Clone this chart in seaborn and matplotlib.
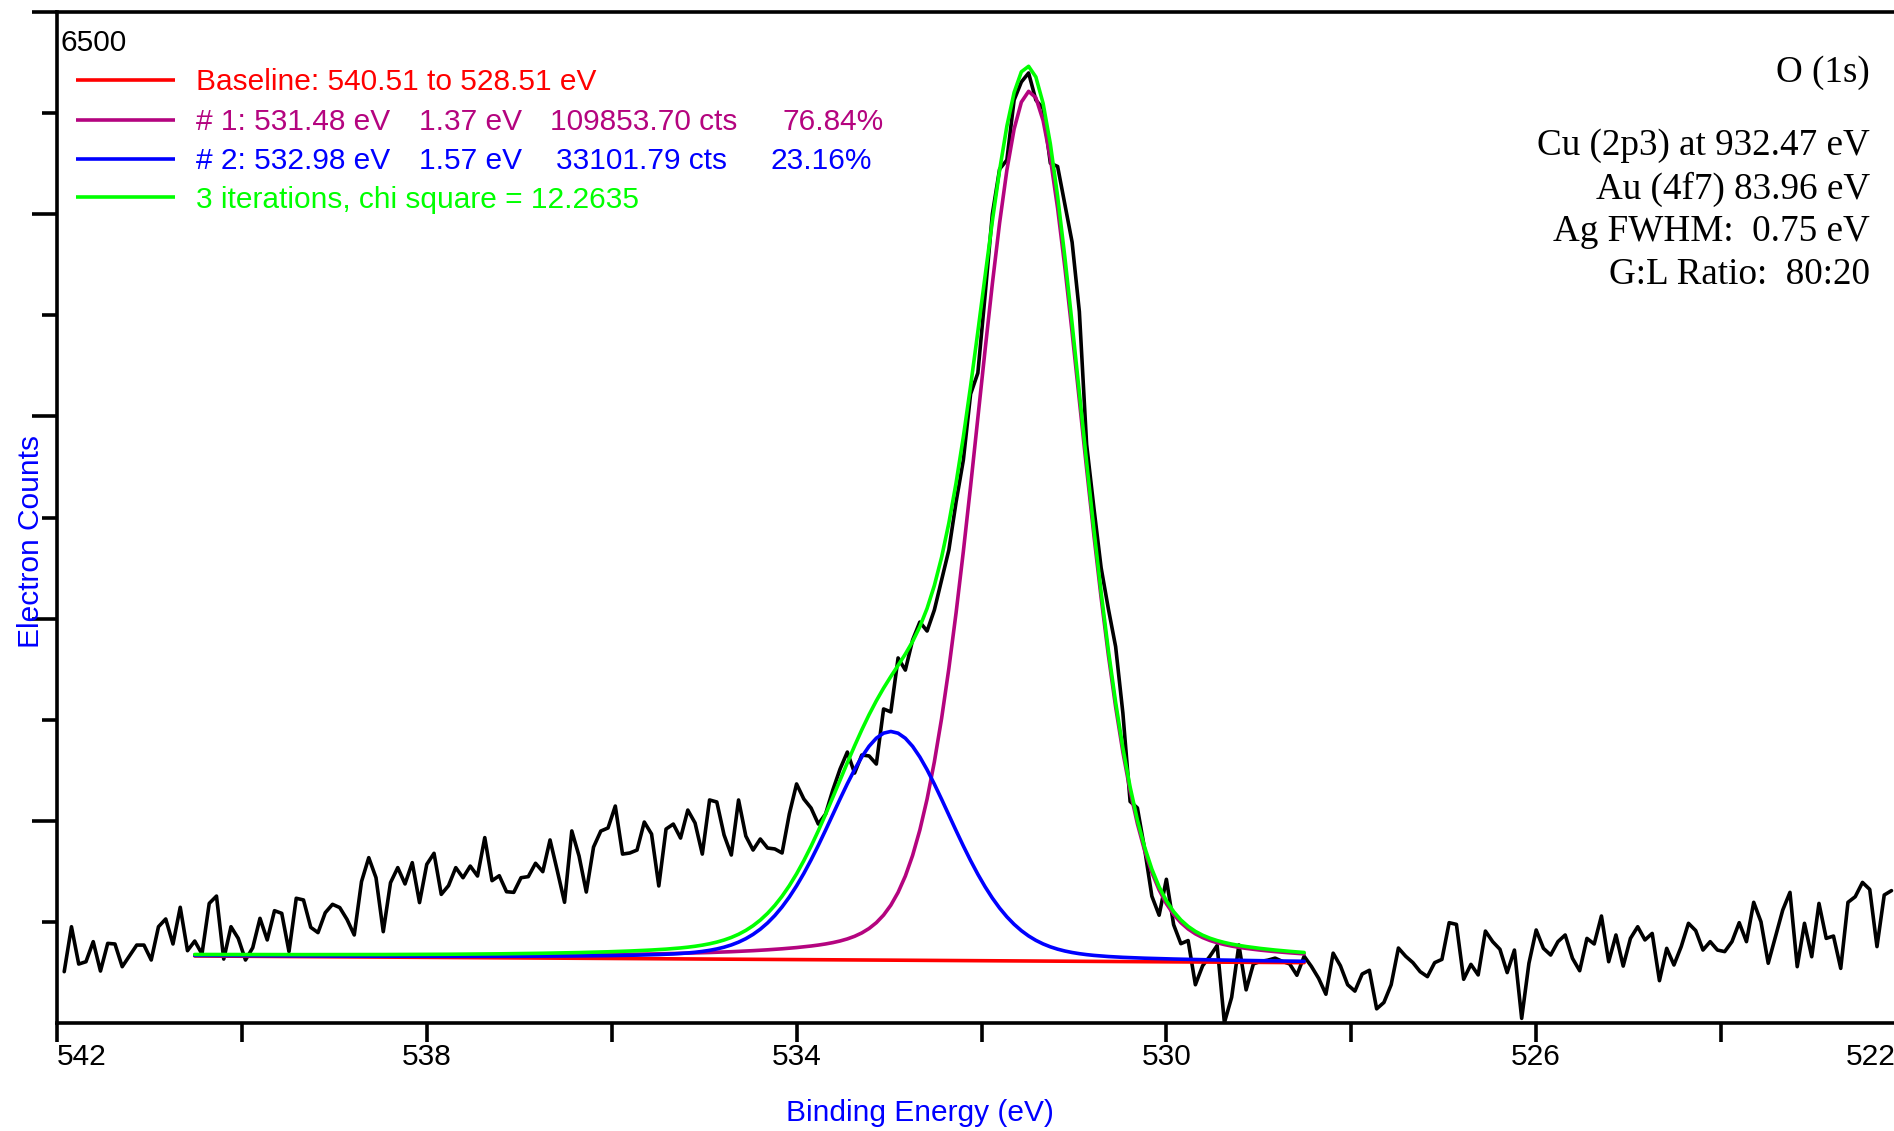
import numpy as np
import matplotlib
matplotlib.use("Agg")
import matplotlib.pyplot as plt
from matplotlib.transforms import ScaledTranslation
import seaborn as sns

# ---- O 1s spectrum: binding-energy grid (eV) and electron counts ----
energy_start, energy_end, n_points = 541.922, 522.157, 253
counts = [
    330, 619, 379, 394, 523, 334, 512, 508, 362, 431,
    501, 501, 405, 619, 669, 508, 744, 465, 527, 444,
    769, 816, 411, 619, 544, 405, 484, 673, 534, 722,
    705, 459, 802, 791, 615, 581, 709, 763, 742, 666,
    566, 909, 1063, 934, 587, 902, 999, 894, 1031, 774,
    1020, 1091, 827, 883, 999, 934, 1009, 945, 1192, 915,
    947, 844, 840, 934, 941, 1027, 973, 1177, 979, 776,
    1235, 1074, 842, 1131, 1234, 1254, 1395, 1086, 1093, 1112,
    1292, 1215, 881, 1247, 1279, 1189, 1369, 1286, 1086, 1434,
    1421, 1209, 1080, 1434, 1202, 1112, 1183, 1125, 1119, 1093,
    1344, 1537, 1440, 1382, 1279, 1344, 1498, 1633, 1742, 1607,
    1723, 1717, 1665, 2019, 2000, 2347, 2269, 2462, 2578, 2520,
    2655, 2848, 3041, 3350, 3619, 4044, 4179, 4680, 5201, 5490,
    5548, 5934, 6050, 6108, 5934, 5880, 5528, 5507, 5264, 5020,
    4573, 3720, 3313, 2927, 2663, 2420, 1993, 1424, 1383, 1119,
    815, 693, 924, 632, 510, 530, 246, 368, 429, 498,
    2, 165, 502, 213, 380, 396, 404, 417, 396, 380,
    307, 429, 364, 287, 185, 449, 368, 246, 205, 315,
    339, 91, 132, 246, 482, 429, 388, 330, 298, 388,
    409, 645, 634, 281, 377, 309, 591, 523, 474, 324,
    469, 30, 384, 598, 480, 437, 523, 566, 416, 336,
    544, 508, 688, 394, 566, 366, 544, 619, 534, 576,
    272, 480, 373, 491, 641, 594, 469, 523, 469, 459,
    523, 645, 523, 776, 651, 384, 555, 726, 840, 362,
    641, 426, 769, 544, 559, 351, 776, 812, 904, 859,
    491, 823, 851,
]

# ---- fit parameters ----
baseline_range = (540.51, 528.51)
baseline_counts = (431, 388)

peak_ids = ["# 1", "# 2"]
peak_centers = [531.48, 532.98]
peak_fwhm = [1.37, 1.57]
peak_areas = [109853.70, 33101.79]
peak_percent = [76.84, 23.16]
lorentz_fraction = 0.20          # G:L ratio 80:20
area_to_counts = 0.0813          # reported area units -> counts*eV
n_iterations = 3
chi_square = 12.2635

info_lines = ["Cu (2p3) at 932.47 eV", "Au (4f7) 83.96 eV",
              "Ag FWHM:  0.75 eV", "G:L Ratio:  80:20"]
region_name = "O (1s)"

x_major = [542, 538, 534, 530, 526, 522]
x_minor = [540, 536, 532, 528, 524]
y_major = [1300, 2600, 3900, 5200, 6500]
y_minor = [650, 1950, 3250, 4550, 5850]
y_top = 6500

col_data = "black"
col_base = "#FF0000"
col_p1 = "#B4047F"
col_p2 = "#0000FF"
col_env = "#00FF00"
col_axis_label = "#0000FF"

# ---- style ----
sns.set_theme(style="ticks", rc={"axes.edgecolor": "black",
                                 "xtick.color": "black",
                                 "ytick.color": "black"})
plt.rcParams["font.family"] = ["Liberation Sans", "DejaVu Sans"]
SANS = 21.5
SERIF = 26.7
LW = 2.6
SPINE_LW = 2.6

fig = plt.figure(figsize=(18.94, 11.31), dpi=100)
ax = fig.add_axes([57 / 1894, 108 / 1131, 1849 / 1894, 1011 / 1131])

energy = np.linspace(energy_start, energy_end, n_points)

# fit window on the measured grid
i0 = int(np.argmin(np.abs(energy - baseline_range[0])))
i1 = int(np.argmin(np.abs(energy - baseline_range[1])))
fit_e = energy[i0:i1 + 1]
baseline = baseline_counts[0] + (baseline_counts[1] - baseline_counts[0]) * \
    (fit_e - baseline_range[0]) / (baseline_range[1] - baseline_range[0])


def gl_sum(e, center, fwhm, height, m):
    t = (e - center) / fwhm
    return height * ((1 - m) * np.exp(-4 * np.log(2) * t ** 2) + m / (1 + 4 * t ** 2))


shape_integral = (1 - lorentz_fraction) * np.sqrt(np.pi / (4 * np.log(2))) \
    + lorentz_fraction * np.pi / 2
components = []
for c, f, a in zip(peak_centers, peak_fwhm, peak_areas):
    h = a * area_to_counts / (f * shape_integral)
    components.append(gl_sum(fit_e, c, f, h, lorentz_fraction))
envelope = baseline + components[0] + components[1]

# ---- curves ----
sns.lineplot(x=energy, y=counts, color=col_data, linewidth=LW, sort=False,
             estimator=None, ax=ax)
sns.lineplot(x=fit_e, y=baseline, color=col_base, linewidth=LW, sort=False,
             estimator=None, ax=ax)
sns.lineplot(x=fit_e, y=baseline + components[0], color=col_p1, linewidth=LW,
             sort=False, estimator=None, ax=ax)
sns.lineplot(x=fit_e, y=baseline + components[1], color=col_p2, linewidth=LW,
             sort=False, estimator=None, ax=ax)
sns.lineplot(x=fit_e, y=envelope, color=col_env, linewidth=LW, sort=False,
             estimator=None, ax=ax)

# ---- axes ----
ax.set_xlim(542, 522)
ax.set_ylim(0, y_top)
for side in ("left", "bottom", "top"):
    ax.spines[side].set_linewidth(SPINE_LW)
    ax.spines[side].set_color("black")
ax.spines["right"].set_visible(False)

ax.set_xticks(x_major, [str(v) for v in x_major])
ax.set_xticks(x_minor, minor=True)
ax.set_yticks(y_major, [])
ax.set_yticks(y_minor, minor=True)
ax.tick_params(axis="x", which="both", direction="out", length=13.7, width=SPINE_LW,
               pad=1, labelsize=SANS)
ax.tick_params(axis="y", which="major", direction="out", length=18, width=SPINE_LW,
               labelleft=False)
ax.tick_params(axis="y", which="minor", direction="out", length=10.8, width=SPINE_LW)
xl = ax.get_xticklabels()
xl[0].set_horizontalalignment("left")
xl[-1].set_horizontalalignment("right")
xl[-1].set_transform(xl[-1].get_transform()
                     + ScaledTranslation(-0.10, 0, fig.dpi_scale_trans))

ax.set_xlabel("Binding Energy (eV)", fontsize=SANS, color=col_axis_label)
ax.xaxis.label.set_verticalalignment("center")
ax.xaxis.set_label_coords((920 - 57) / 1849, (1023 - 1113) / 1011)
ax.set_ylabel("Electron Counts", fontsize=SANS, color=col_axis_label)
ax.yaxis.label.set_verticalalignment("center")
ax.yaxis.set_label_coords((31 - 57) / 1849, (1023 - 542) / 1011)


def fx(px):
    return (px - 57) / 1849


def fy(py):
    return (1023 - py) / 1011


ax.text(fx(60), fy(43), str(y_top), transform=ax.transAxes,
        ha="left", va="center", fontsize=SANS, color="black")

# ---- fit summary (upper left) ----
rows_y = [80, 119.6, 158.5, 197]
text_dy = 2.5
row_colors = [col_base, col_p1, col_p2, col_env]
for ry, rc in zip(rows_y, row_colors):
    ax.plot([fx(76), fx(175)], [fy(ry), fy(ry)], color=rc, linewidth=LW,
            transform=ax.transAxes, solid_capstyle="butt")

ax.text(fx(196), fy(rows_y[0] + text_dy),
        f"Baseline: {baseline_range[0]:.2f} to {baseline_range[1]:.2f} eV",
        transform=ax.transAxes, ha="left", va="center", fontsize=SANS, color=col_base)

col3_x = [550, 556]
col4_x = [782, 771]
for i in range(2):
    ry = rows_y[i + 1] + text_dy
    rc = row_colors[i + 1]
    ax.text(fx(196), fy(ry), f"{peak_ids[i]}: {peak_centers[i]:.2f} eV",
            transform=ax.transAxes, ha="left", va="center", fontsize=SANS, color=rc)
    ax.text(fx(419), fy(ry), f"{peak_fwhm[i]:.2f} eV",
            transform=ax.transAxes, ha="left", va="center", fontsize=SANS, color=rc)
    ax.text(fx(col3_x[i]), fy(ry), f"{peak_areas[i]:.2f} cts",
            transform=ax.transAxes, ha="left", va="center", fontsize=SANS, color=rc)
    ax.text(fx(col4_x[i]), fy(ry), f"{peak_percent[i]:.2f}%",
            transform=ax.transAxes, ha="left", va="center", fontsize=SANS, color=rc)

ax.text(fx(196), fy(rows_y[3] + text_dy),
        f"{n_iterations} iterations, chi square = {chi_square:.4f}",
        transform=ax.transAxes, ha="left", va="center", fontsize=SANS, color=col_env)

# ---- region / calibration notes (upper right) ----
serif = ["Liberation Serif", "DejaVu Serif"]
ax.text(fx(1870), fy(73), region_name, transform=ax.transAxes, ha="right",
        va="center", fontsize=SERIF, family=serif, color="black")
for ty, line in zip([145.5, 189, 231.5, 275], info_lines):
    ax.text(fx(1870), fy(ty), line, transform=ax.transAxes, ha="right",
            va="center", fontsize=SERIF, family=serif, color="black")

fig.savefig("out.png", dpi=100)
